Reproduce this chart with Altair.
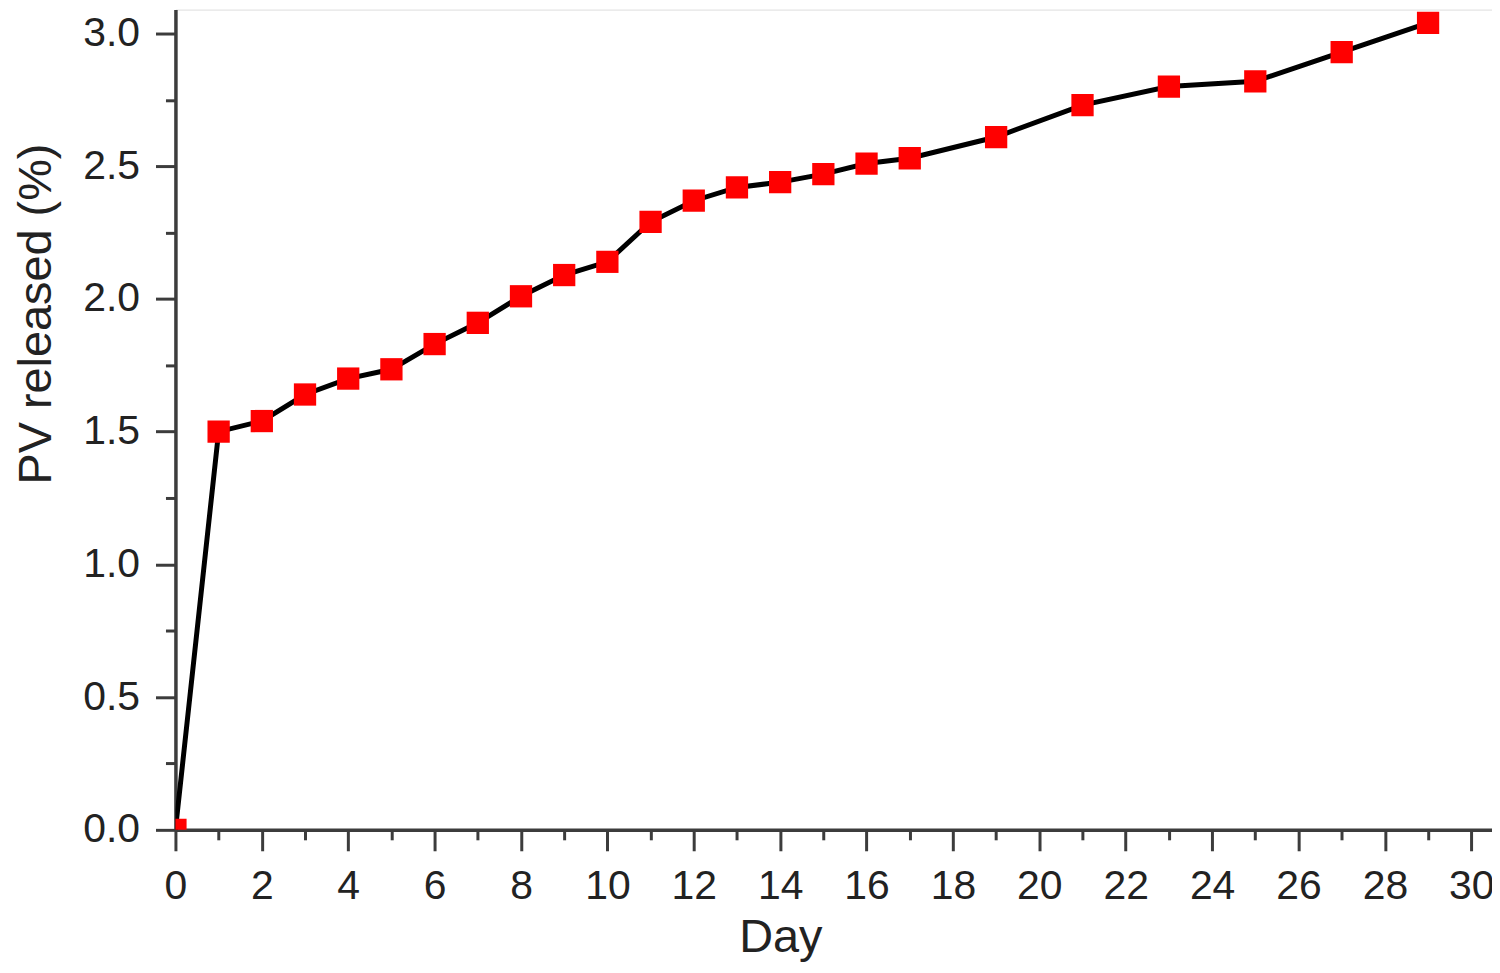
import altair as alt
import pandas as pd

days = [0, 1, 2, 3, 4, 5, 6, 7, 8, 9, 10, 11, 12, 13, 14, 15, 16, 17, 19, 21, 23, 25, 27, 29]
released = [0.0, 1.50, 1.54, 1.64, 1.70, 1.735, 1.83, 1.91, 2.01, 2.09, 2.14, 2.29, 2.37,
            2.42, 2.44, 2.47, 2.51, 2.53, 2.61, 2.73, 2.80, 2.82, 2.93, 3.04]

x_ticks = list(range(0, 31))
y_ticks = [i * 0.25 for i in range(13)]

df = pd.DataFrame({"Day": days, "PV": released})

FONT = "Liberation Sans"
AX = "#3c3c3c"

x_enc = alt.X(
    "Day:Q",
    scale=alt.Scale(domain=[0, 30.48], nice=False),
    axis=alt.Axis(
        title="Day", values=x_ticks, grid=False,
        labelExpr="datum.value % 2 === 0 ? datum.label : ''",
        tickSize={"condition": {"test": "datum.value % 2 !== 0", "value": 10}, "value": 21},
        tickWidth=3, tickColor=AX, domainColor=AX, domainWidth=3.5,
        labelFont=FONT, labelFontSize=41, labelColor="#222222", labelPadding=16,
        labelFlush=False, labelOverlap=False,
        titleFont=FONT, titleFontSize=47, titleFontWeight="normal", titleColor="#222222",
        titleX=607, titleY=108, titleBaseline="middle", titleAnchor="start", titleAlign="center",
    ),
)
y_enc = alt.Y(
    "PV:Q",
    scale=alt.Scale(domain=[0, 3.09], nice=False),
    axis=alt.Axis(
        title="PV released (%)", values=y_ticks, grid=False, format=".1f",
        labelExpr="datum.value % 0.5 === 0 ? datum.label : ''",
        tickSize={"condition": {"test": "datum.value % 0.5 !== 0", "value": 10}, "value": 20},
        tickWidth=3, tickColor=AX, domainColor=AX, domainWidth=3.5,
        labelFont=FONT, labelFontSize=41, labelColor="#222222", labelPadding=16,
        labelFlush=False, labelOverlap=False,
        titleFont=FONT, titleFontSize=47, titleFontWeight="normal", titleColor="#222222",
        titleX=-139, titleY=305, titleAngle=-90, titleBaseline="middle", titleAlign="center",
        titleAnchor="start",
    ),
)

line = alt.Chart(df).mark_line(color="black", strokeWidth=5, clip=True).encode(x=x_enc, y=y_enc)
pts = alt.Chart(df).mark_point(shape="square", filled=True, color="#ff0000", size=500,
                               opacity=1, clip=True).encode(x="Day:Q", y="PV:Q")

chart = (line + pts).properties(
    width=1321, height=823,
    autosize=alt.AutoSizeParams(type="none"),
    padding={"left": 168, "top": 0, "right": 0, "bottom": 134},
).configure_view(stroke=None).configure(background="white")

chart.save("out.html", embed_options={"renderer": "svg", "actions": False})
